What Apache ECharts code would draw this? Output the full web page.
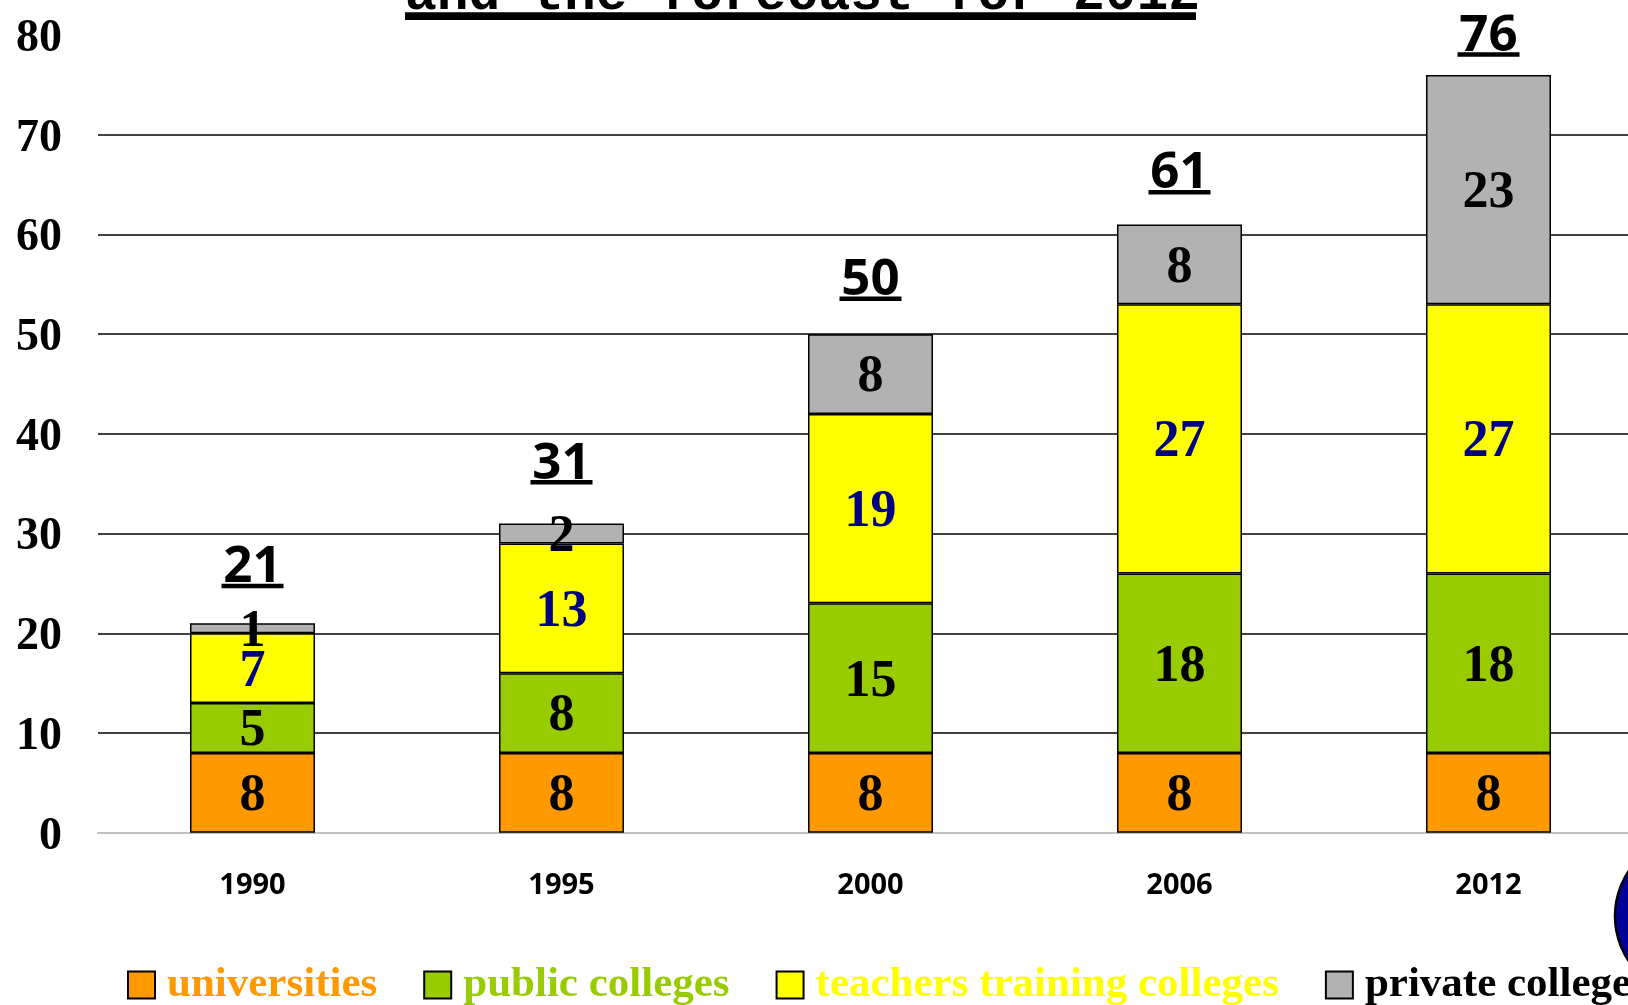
<!DOCTYPE html>
<html>
<head>
<meta charset="utf-8">
<script src="https://cdn.jsdelivr.net/npm/echarts@6/dist/echarts.min.js"></script>
<style>
html,body{margin:0;padding:0;background:#fff;overflow:hidden;}
#chart{width:1628px;height:1005px;}
</style>
</head>
<body>
<div id="chart"></div>
<script>
const categories = ['1990', '1995', '2000', '2006', '2012'];
const universities = [8, 8, 8, 8, 8];
const publicColleges = [5, 8, 15, 18, 18];
const teachersColleges = [7, 13, 19, 27, 27];
const privateColleges = [1, 2, 8, 8, 23];
const totals = [21, 31, 50, 61, 76];
const seriesNames = ['universities', 'public colleges', 'teachers training colleges', 'private colleges'];
const seriesColors = ['#FF9900', '#99CC00', '#FFFF00', '#B2B2B2'];
const legendTextColors = ['#FF9900', '#99CC00', '#FFFF00', '#000000'];
const totalLabelGaps = [35, 39, 33, 30, 18];
const titleText = 'and the forecast for 2012';

const serifFamily = '"Liberation Serif", "Times New Roman", serif';

function barSeries(name, data, color, labelColor) {
  return {
    name: name,
    type: 'bar',
    stack: 'total',
    barWidth: 125,
    data: data,
    itemStyle: { color: color, borderColor: '#000', borderWidth: 1.5 },
    label: {
      show: true,
      position: 'inside',
      offset: [0, 4],
      color: labelColor,
      fontSize: 52,
      fontFamily: serifFamily,
      fontWeight: 'bold'
    },
    emphasis: { disabled: true }
  };
}

const chart = echarts.init(document.getElementById('chart'), null, { renderer: 'canvas' });
chart.setOption({
  animation: false,
  backgroundColor: '#ffffff',
  grid: { left: 98, width: 1545, top: 35, height: 797.7, containLabel: false, outerBoundsMode: 'none' },
  xAxis: {
    type: 'category',
    data: categories,
    axisLine: { show: true, lineStyle: { color: '#c0c0c0', width: 2 } },
    axisTick: { show: false },
    axisLabel: {
      margin: 39,
      color: '#000',
      fontSize: 29,
      fontFamily: '"Open Sans", sans-serif',
      fontWeight: 'bold'
    }
  },
  yAxis: {
    type: 'value',
    min: 0,
    max: 80,
    interval: 10,
    axisLine: { show: false },
    axisTick: { show: false },
    axisLabel: {
      margin: 36,
      color: '#000',
      fontSize: 46,
      verticalAlign: 'top',
      lineHeight: 8,
      fontFamily: serifFamily,
      fontWeight: 'bold'
    },
    splitLine: {
      show: true,
      showMinLine: false,
      showMaxLine: false,
      lineStyle: { color: '#000', width: 1.5 }
    }
  },
  legend: {
    left: 127,
    top: 963.5,
    width: 3000,
    padding: 0,
    itemGap: 46,
    itemWidth: 27,
    itemHeight: 27,
    icon: 'rect',
    itemStyle: { borderColor: '#000', borderWidth: 2 },
    textStyle: {
      fontSize: 43,
      lineHeight: 43,
      fontFamily: serifFamily,
      fontWeight: 'bold',
      padding: [0, 0, 0, 7]
    },
    data: seriesNames.map((n, i) => ({ name: n, textStyle: { color: legendTextColors[i] } }))
  },
  graphic: [
    {
      type: 'text',
      x: 405,
      y: -4.5,
      style: {
        text: titleText,
        fill: '#000',
        font: 'bold 53px "Liberation Mono", "Courier New", monospace',
        verticalAlign: 'middle',
        align: 'left'
      },
      z: 10
    },
    {
      type: 'rect',
      shape: { x: 405, y: 12.3, width: 791, height: 7.7 },
      style: { fill: '#000' },
      z: 10
    },
    {
      type: 'circle',
      shape: { cx: 1696, cy: 916, r: 81 },
      style: { fill: '#000099', stroke: '#000', lineWidth: 2.5 },
      z: 10
    }
  ],
  series: [
    barSeries(seriesNames[0], universities, seriesColors[0], '#000'),
    barSeries(seriesNames[1], publicColleges, seriesColors[1], '#000'),
    barSeries(seriesNames[2], teachersColleges, seriesColors[2], '#000080'),
    barSeries(seriesNames[3], privateColleges, seriesColors[3], '#000'),
    {
      name: 'total',
      type: 'scatter',
      data: totals.map((v, i) => ({ value: v, label: { distance: totalLabelGaps[i] } })),
      symbolSize: 0.1,
      itemStyle: { color: 'rgba(0,0,0,0)', opacity: 1 },
      silent: true,
      z: 5,
      label: {
        show: true,
        position: 'top',
        color: '#000',
        formatter: p => '{t|' + p.value + '}\n{u|}',
        rich: {
          t: {
            fontSize: 51,
            lineHeight: 32,
            fontFamily: '"Open Sans", sans-serif',
            fontWeight: 'bold',
            color: '#000',
            align: 'center'
          },
          u: {
            width: 62,
            height: 4.5,
            lineHeight: 4.5,
            backgroundColor: '#000',
            align: 'center'
          }
        }
      }
    }
  ]
});
</script>
</body>
</html>
